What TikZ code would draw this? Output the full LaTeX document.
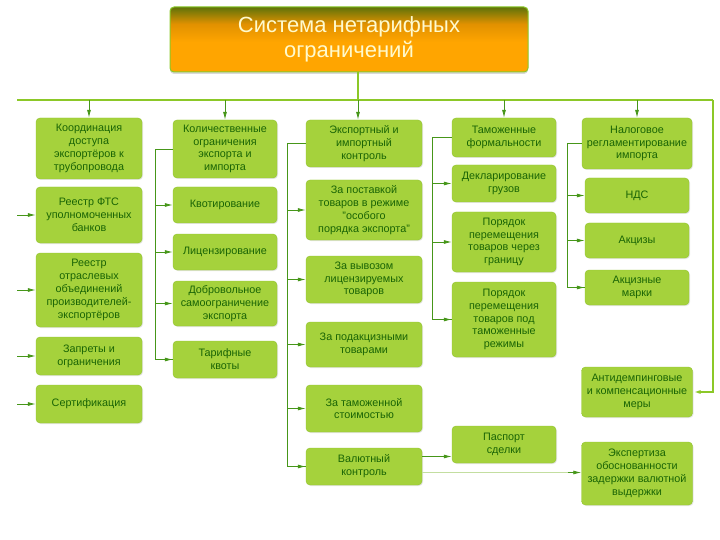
\documentclass[tikz,border=0pt]{standalone}
\usepackage{fontspec}
\setmainfont{Liberation Sans}
\usepackage{tikz}
\usetikzlibrary{arrows.meta,shadows,calc}

\definecolor{boxgreen}{RGB}{165,210,60}
\definecolor{boxedge}{RGB}{145,195,45}
\definecolor{txtgreen}{RGB}{25,100,5}
\definecolor{busgreen}{RGB}{140,200,40}
\definecolor{linkgreen}{RGB}{70,150,25}
\definecolor{thingreen}{RGB}{195,222,160}
\definecolor{titletop}{RGB}{95,115,10}
\definecolor{titlemid}{RGB}{225,145,0}
\definecolor{titlebot}{RGB}{255,165,0}
\definecolor{titletext}{RGB}{255,250,205}

\pgfdeclareverticalshading{titleshade}{100bp}{color(0bp)=(titlebot);
  color(25bp)=(titlebot); color(48bp)=(titlebot); color(62bp)=(titlemid);
  color(75bp)=(titletop); color(100bp)=(titletop)}

\tikzset{
  blk/.style={draw=boxedge, fill=boxgreen, rounded corners=4pt, text=txtgreen,
    align=center, inner sep=1pt, font=\fontsize{10.8}{12.8}\selectfont,
    drop shadow={shadow xshift=1pt, shadow yshift=-1pt, opacity=0.2}},
  bus/.style={draw=busgreen, line width=1.6pt},
  link/.style={draw=linkgreen, line width=0.8pt},
  arr/.style={link, -{Latex[length=8pt,width=4pt]}},
}

\begin{document}
\begin{tikzpicture}[x=1pt,y=-1pt]
\useasboundingbox (0,0) rectangle (720,540);

% Title
\node[draw=busgreen, line width=1pt, rounded corners=4pt, shading=titleshade,
  minimum width=358pt, minimum height=65pt, text=titletext, align=center,
  font=\fontsize{22}{25}\selectfont,
  drop shadow={shadow xshift=0pt, shadow yshift=-2pt, opacity=0.3}]
  (title) at (349,39.5) {Система нетарифных\\ограничений};

% First column
\node[blk, minimum width=106pt, minimum height=61pt] (koord) at (89,148.5)
  {Координация\\доступа\\экспортёров к\\трубопровода};
\node[blk, minimum width=106pt, minimum height=56pt] (reestrfts) at (89,215)
  {Реестр ФТС\\уполномоченных\\банков};
\node[blk, minimum width=106pt, minimum height=74pt] (reestrotr) at (89,290)
  {Реестр\\отраслевых\\объединений\\производителей-\\экспортёров};
\node[blk, minimum width=106pt, minimum height=38pt] (zaprety) at (89,356)
  {Запреты и\\ограничения};
\node[blk, minimum width=106pt, minimum height=38pt] (sert) at (89,404)
  {Сертификация};

% Second column
\node[blk, minimum width=104pt, minimum height=58pt] (kolich) at (225,149)
  {Количественные\\ограничения\\экспорта и\\импорта};
\node[blk, minimum width=104pt, minimum height=36pt] (kvot) at (225,205)
  {Квотирование};
\node[blk, minimum width=104pt, minimum height=36pt] (licenz) at (225,252)
  {Лицензирование};
\node[blk, minimum width=104pt, minimum height=45pt] (dobr) at (225,303.5)
  {Добровольное\\самоограничение\\экспорта};
\node[blk, minimum width=104pt, minimum height=37pt] (tarif) at (225,359.5)
  {Тарифные\\квоты};

% Third column
\node[blk, minimum width=116pt, minimum height=47pt] (eksp) at (364,143.5)
  {Экспортный и\\импортный\\контроль};
\node[blk, minimum width=116pt, minimum height=60pt] (osob) at (364,210)
  {За поставкой\\товаров в режиме\\"особого\\порядка экспорта"};
\node[blk, minimum width=116pt, minimum height=47pt] (vyvoz) at (364,279.5)
  {За вывозом\\лицензируемых\\товаров};
\node[blk, minimum width=116pt, minimum height=45pt] (podakc) at (364,344.5)
  {За подакцизными\\товарами};
\node[blk, minimum width=116pt, minimum height=47pt] (tamst) at (364,408.5)
  {За таможенной\\стоимостью};
\node[blk, minimum width=116pt, minimum height=37pt] (valut) at (364,466.5)
  {Валютный\\контроль};

% Fourth column
\node[blk, minimum width=104pt, minimum height=39pt] (tamform) at (504,137.5)
  {Таможенные\\формальности};
\node[blk, minimum width=104pt, minimum height=37pt] (deklar) at (504,183.5)
  {Декларирование\\грузов};
\node[blk, minimum width=104pt, minimum height=60pt] (granica) at (504,242)
  {Порядок\\перемещения\\товаров через\\границу};
\node[blk, minimum width=104pt, minimum height=75pt] (rezhim) at (504,319.5)
  {Порядок\\перемещения\\товаров под\\таможенные\\режимы};
\node[blk, minimum width=104pt, minimum height=37pt] (pasport) at (504,444.5)
  {Паспорт\\сделки};

% Fifth column
\node[blk, minimum width=110pt, minimum height=51pt] (nalog) at (637,143.5)
  {Налоговое\\регламентирование\\импорта};
\node[blk, minimum width=104pt, minimum height=35pt] (nds) at (637,195.5)
  {НДС};
\node[blk, minimum width=104pt, minimum height=35pt] (aktsizy) at (637,240.5)
  {Акцизы};
\node[blk, minimum width=104pt, minimum height=35pt] (marki) at (637,287.5)
  {Акцизные\\марки};
\node[blk, minimum width=111pt, minimum height=50pt] (antidemp) at (637,392)
  {Антидемпинговые\\и компенсационные\\меры};
\node[blk, minimum width=111pt, minimum height=63pt] (ekspertiza) at (637,473.5)
  {Экспертиза\\обоснованности\\задержки валютной\\выдержки};

% Main bus
\coordinate (busL) at (17,100);
\coordinate (busR) at (713,100);
\coordinate (hub) at (358,100);
\draw[bus] (busL) -- (busR);
\draw[bus] (title.south -| hub) -- (hub);
\draw[bus, -{Latex[length=8pt,width=4pt]}] (busR) |- (antidemp.east);
\foreach \n in {koord,kolich,tamform,nalog}
  \draw[arr] (\n.north |- busL) -- (\n.north);
\draw[arr] (hub) -- (hub |- eksp.north);

% Left stubs
\foreach \n in {reestrfts,reestrotr,zaprety,sert}
  \draw[arr] (\n.west -| busL) -- (\n.west);

% Brackets
\draw[link] (kolich.west) -- ++(-17,0) coordinate (b2) |- (tarif.west);
\foreach \n in {kvot,licenz,dobr,tarif}
  \draw[arr] (b2 |- \n.west) -- (\n.west);
\draw[link] (eksp.west) -- ++(-18,0) coordinate (b3) |- (valut.west);
\foreach \n in {osob,vyvoz,podakc,tamst,valut}
  \draw[arr] (b3 |- \n.west) -- (\n.west);
\draw[link] (tamform.west) -- ++(-19,0) coordinate (b4) |- (rezhim.west);
\foreach \n in {deklar,granica,rezhim}
  \draw[arr] (b4 |- \n.west) -- (\n.west);
\draw[link] (nalog.west) -- ++(-14,0) coordinate (b5) |- (marki.west);
\foreach \n in {nds,aktsizy,marki}
  \draw[arr] (b5 |- \n.west) -- (\n.west);

% Currency control links
\draw[arr] ([yshift=10pt]valut.east) -- ([yshift=10pt]valut.east -| pasport.west);
\draw[draw=thingreen, line width=0.7pt] ([yshift=-6pt]valut.east) -- ([yshift=-6pt]valut.east -| b5) coordinate (ek);
\draw[arr] (ek) -- (ek -| ekspertiza.west);
\end{tikzpicture}
\end{document}
